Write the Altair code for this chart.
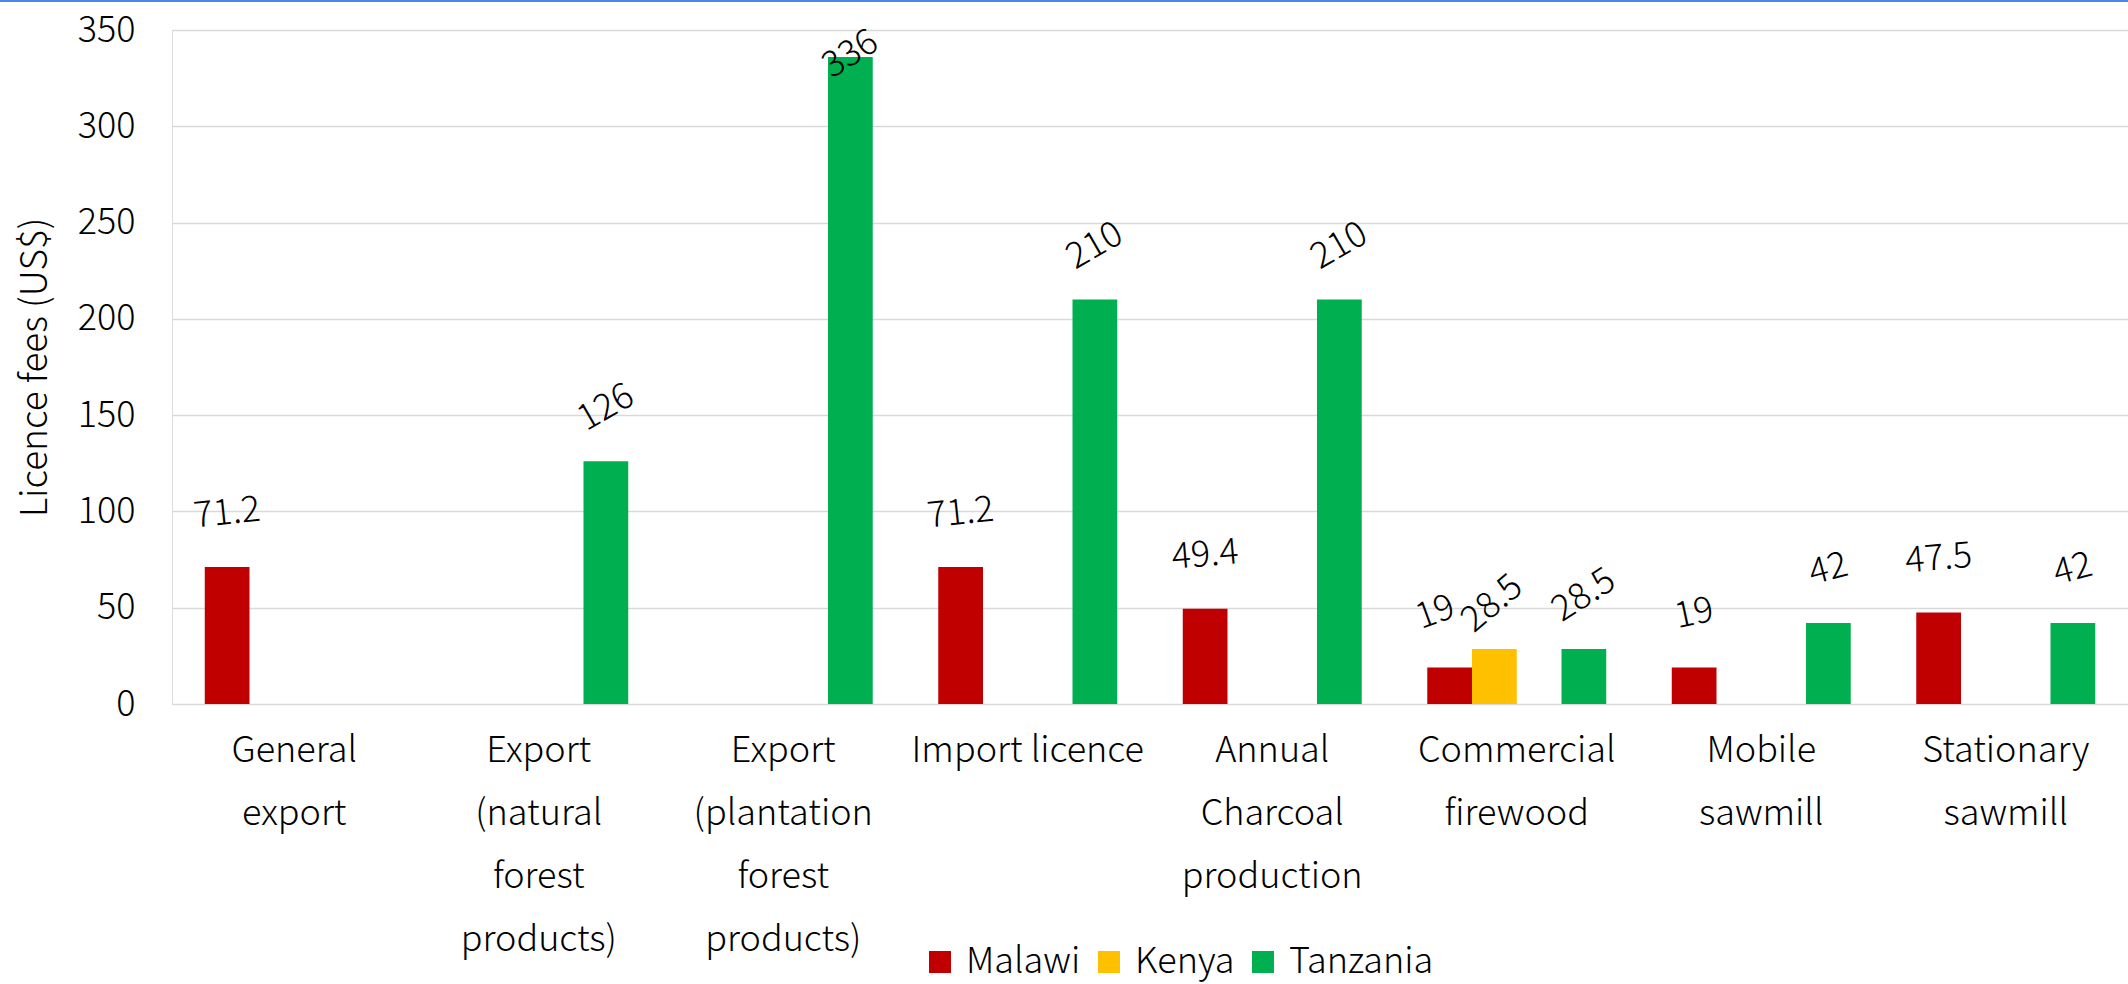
import altair as alt
import pandas as pd

categories = [
    "General\nexport",
    "Export\n(natural\nforest\nproducts)",
    "Export\n(plantation\nforest\nproducts)",
    "Import licence",
    "Annual\nCharcoal\nproduction",
    "Commercial\nfirewood",
    "Mobile\nsawmill",
    "Stationary\nsawmill",
]
countries = ["Malawi", "Kenya", "Tanzania"]
colors = ["#C00000", "#FFC000", "#00B050"]

malawi = [71.2, None, None, 71.2, 49.4, 19, 19, 47.5]
kenya = [None, None, None, None, None, 28.5, None, None]
tanzania = [None, 126, 336, 210, 210, 28.5, 42, 42]

# rotation (degrees, counter-clockwise) of each data label as drawn in the source
malawi_angle = [6, 0, 0, 6, 5, 20, 12, 5]
kenya_angle = [0, 0, 0, 0, 0, 40, 0, 0]
tanzania_angle = [0, 30, 32, 30, 30, 33, 15, 15]

rows = []
for series, vals, angs in [("Malawi", malawi, malawi_angle),
                           ("Kenya", kenya, kenya_angle),
                           ("Tanzania", tanzania, tanzania_angle)]:
    for cat, v, a in zip(categories, vals, angs):
        if v is not None:
            rows.append({"category": cat, "country": series, "value": v,
                         "angle": (360 - a) % 360, "label": f"{v:g}"})
df = pd.DataFrame(rows)

FONT = "Noto Sans CJK JP"
W = 300

x_enc = alt.X(
    "category:N", sort=categories,
    scale=alt.Scale(paddingInner=0.268, paddingOuter=0.134),
    axis=alt.Axis(
        title=None, labelExpr="split(datum.label, '\\n')", labelAngle=0,
        labelFontSize=36, labelLineHeight=63, labelFont=FONT, labelColor="black",
        labelFontWeight=W,
        labelPadding=29, ticks=False, domain=False, labelLimit=0, grid=False,
    ),
)
xoff = alt.XOffset(
    "country:N",
    scale=alt.Scale(domain=["Malawi", "Kenya", "_gap", "Tanzania"],
                    paddingInner=0, paddingOuter=0),
)

base = alt.Chart(df)

bars = base.mark_bar().encode(
    x=x_enc,
    xOffset=xoff,
    y=alt.Y(
        "value:Q",
        scale=alt.Scale(domain=[0, 350], nice=False, zero=True),
        axis=alt.Axis(
            values=list(range(0, 351, 50)), title="Licence fees (US$)",
            titleFontSize=37, titleFontWeight=W, titleFont=FONT,
            titleColor="black", titlePadding=23,
            labelFontSize=36, labelFont=FONT, labelColor="black",
            labelFontWeight=W,
            labelPadding=37, ticks=False, domain=False,
            grid=True, gridColor="#D9D9D9", gridWidth=1.5,
        ),
    ),
    color=alt.Color(
        "country:N",
        scale=alt.Scale(domain=countries, range=colors),
        legend=alt.Legend(
            title=None, orient="none", direction="horizontal",
            legendX=750, legendY=914, symbolType="square", symbolSize=484,
            symbolStrokeWidth=0, symbolOpacity=1, labelFontSize=36,
            labelFont=FONT, labelColor="black", labelFontWeight=W,
            columnPadding=10, labelOffset=8,
        ),
    ),
)

is_cm = "datum.category == 'Commercial\\nfirewood' && datum.country == 'Malawi'"
is_ck = "datum.category == 'Commercial\\nfirewood' && datum.country == 'Kenya'"

label_base = base.transform_calculate(
    ly="min(datum.value + 28, 337.5)"
)

def text_layer(filt, dx=0, dy=0):
    return label_base.transform_filter(filt).mark_text(
        fontSize=36, font=FONT, fontWeight=W, color="black", baseline="middle",
        align="center", dx=dx, dy=dy,
    ).encode(
        x=alt.X("category:N", sort=categories),
        xOffset=alt.XOffset("country:N"),
        y=alt.Y("ly:Q"),
        text="label:N",
        angle=alt.Angle("angle:Q", scale=None),
    )

labels_main = text_layer(f"!({is_cm}) && !({is_ck})")
labels_cm = text_layer(is_cm, dx=-13, dy=-6)
labels_ck = text_layer(is_ck, dx=-7, dy=5)

top_line = alt.Chart(pd.DataFrame({"v": [0]})).mark_rule(
    color="#4A86F0", strokeWidth=2
).encode(x=alt.value(-172), x2=alt.value(1960), y=alt.value(-29))

chart = alt.layer(bars, labels_main, labels_cm, labels_ck, top_line).properties(
    width=1956, height=674,
    autosize=alt.AutoSizeParams(type="none"),
    padding={"left": 172, "top": 30, "right": 0, "bottom": 280},
).configure_view(stroke=None).configure(background="white")

chart.save("out.html", embed_options={"renderer": "svg", "actions": False})
